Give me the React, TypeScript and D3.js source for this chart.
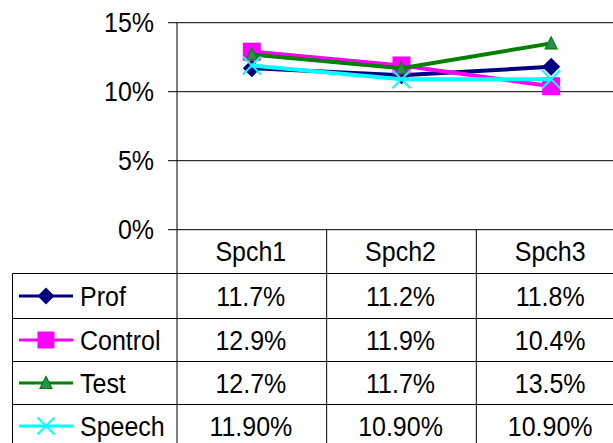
import React from "react";
import * as d3 from "d3";

const categories = ["Spch1", "Spch2", "Spch3"];
const seriesNames = ["Prof", "Control", "Test", "Speech"];
const profValues = [0.117, 0.112, 0.118];
const controlValues = [0.129, 0.119, 0.104];
const testValues = [0.127, 0.117, 0.135];
const speechValues = [0.119, 0.109, 0.109];
const tableLabels = [
  ["11.7%", "11.2%", "11.8%"],
  ["12.9%", "11.9%", "10.4%"],
  ["12.7%", "11.7%", "13.5%"],
  ["11.90%", "10.90%", "10.90%"],
];
const yTicks = [0, 0.05, 0.1, 0.15];

const W = 613;
const H = 443;
const FONT = "'Liberation Sans', Arial, sans-serif";
const SY = 1.08;

type Style = { color: string; fill: string; marker: string };
const styles: Style[] = [
  { color: "#000080", fill: "#000080", marker: "diamond" },
  { color: "#FF00FF", fill: "#FF00FF", marker: "square" },
  { color: "#008000", fill: "#2E8B57", marker: "triangle" },
  { color: "#00FFFF", fill: "#00FFFF", marker: "x" },
];

function T({ x, y, anchor, children }: { x: number; y: number; anchor?: string; children: React.ReactNode }) {
  return (
    <g transform={`translate(${x},${y}) scale(1,${SY})`}>
      <text x={0} y={0} dy="0.36em" textAnchor={anchor || "start"} fontSize={25} fill="#000">
        {children}
      </text>
    </g>
  );
}

function Marker({ kind, x, y, s, st }: { kind: string; x: number; y: number; s: number; st: Style }) {
  if (kind === "diamond") {
    const h = s / 2;
    return <path d={`M${x},${y - h}L${x + h},${y}L${x},${y + h}L${x - h},${y}Z`} fill={st.fill} />;
  }
  if (kind === "square") {
    const h = s / 2;
    return <rect x={x - h} y={y - h} width={s} height={s} fill={st.fill} />;
  }
  if (kind === "triangle") {
    const w = s * 0.6;
    const hh = s * 0.55;
    return (
      <path
        d={`M${x},${y - hh / 2 - 1}L${x + w / 2},${y + hh / 2}L${x - w / 2},${y + hh / 2}Z`}
        fill={st.fill}
        stroke={st.color}
        strokeWidth={1.2}
      />
    );
  }
  const h = s / 2;
  return (
    <g stroke={st.color} strokeWidth={2}>
      <line x1={x - h} y1={y - h} x2={x + h} y2={y + h} />
      <line x1={x - h} y1={y + h} x2={x + h} y2={y - h} />
    </g>
  );
}

export default function App() {
  const allSeries = [profValues, controlValues, testValues, speechValues];
  const x = d3.scaleBand<string>().domain(categories).range([177, 626]);
  const y = d3.scaleLinear().domain([0, 0.15]).range([229.7, 22.7]);
  const line = d3
    .line<number>()
    .x((_, i) => (x(categories[i]) as number) + x.bandwidth() / 2)
    .y((d) => y(d));

  const rowBorders = [229.7, 273.5, 318.5, 361.5, 404.5];
  const rowCenters = [296, 340, 383, 426];
  const colLines = categories.map((c) => x(c) as number);

  return (
    <svg
      width={W}
      height={H}
      style={{ position: "absolute", left: 0, top: 0, background: "#fff" }}
      fontFamily={FONT}
    >
      <rect width={W} height={H} fill="#fff" />
      {yTicks.map((t) => (
        <g key={t}>
          <line x1={168} x2={W} y1={y(t)} y2={y(t)} stroke="#000" strokeWidth={1} />
          <T x={154} y={y(t)} anchor="end">
            {d3.format(".0%")(t)}
          </T>
        </g>
      ))}
      <line x1={177} x2={177} y1={y(0.15)} y2={H} stroke="#000" strokeWidth={1} />
      {colLines.slice(1).map((cx) => (
        <line key={cx} x1={cx} x2={cx} y1={229.7} y2={H} stroke="#000" strokeWidth={1} />
      ))}
      {rowBorders.slice(1).map((ry) => (
        <line key={ry} x1={12.5} x2={W} y1={ry} y2={ry} stroke="#000" strokeWidth={1} />
      ))}
      <line x1={12.5} x2={12.5} y1={273.5} y2={H} stroke="#000" strokeWidth={1} />
      {categories.map((c) => (
        <T key={c} x={(x(c) as number) + x.bandwidth() / 2 - 1} y={251.5} anchor="middle">
          {c}
        </T>
      ))}
      {seriesNames.map((name, i) => (
        <g key={name}>
          <line x1={19} x2={73} y1={rowCenters[i]} y2={rowCenters[i]} stroke={styles[i].color} strokeWidth={3} />
          <Marker kind={styles[i].marker} x={46} y={rowCenters[i]} s={i === 2 ? 20 : 17} st={styles[i]} />
          <T x={80} y={rowCenters[i]}>
            {name}
          </T>
          {tableLabels[i].map((lab, j) => (
            <T key={j} x={(x(categories[j]) as number) + x.bandwidth() / 2 - 1} y={rowCenters[i]} anchor="middle">
              {lab}
            </T>
          ))}
        </g>
      ))}
      {allSeries.map((vals, i) => (
        <g key={i}>
          <path d={line(vals) || ""} fill="none" stroke={styles[i].color} strokeWidth={4} />
          {vals.map((v, j) => (
            <Marker
              key={j}
              kind={styles[i].marker}
              x={(x(categories[j]) as number) + x.bandwidth() / 2}
              y={y(v)}
              s={i === 2 ? 20 : 18}
              st={styles[i]}
            />
          ))}
        </g>
      ))}
    </svg>
  );
}
